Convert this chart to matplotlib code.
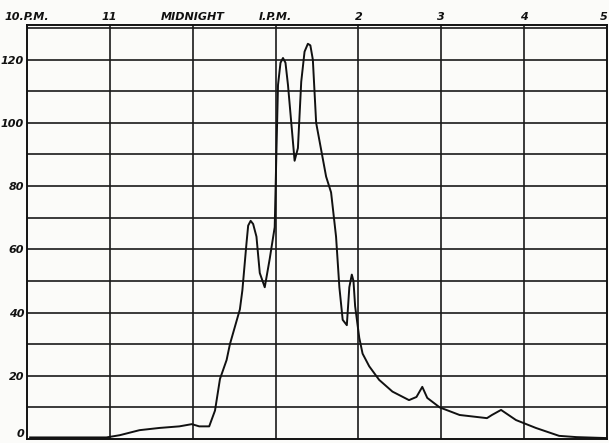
import numpy as np
import matplotlib
matplotlib.use("Agg")
from matplotlib import pyplot as plt

# hours after 10 P.M. and the value
hours = [0.04, 0.96, 1.12, 1.36, 1.60, 1.84, 1.99, 2.08, 2.20, 2.27, 2.33, 2.41,
         2.45, 2.57, 2.60, 2.65, 2.67, 2.70, 2.73, 2.77, 2.81, 2.87, 2.93, 2.99,
         3.01, 3.03, 3.06, 3.09, 3.12, 3.15, 3.19, 3.23, 3.27, 3.31, 3.35, 3.39,
         3.42, 3.45, 3.49, 3.61, 3.67, 3.73, 3.77, 3.81, 3.86, 3.89, 3.92, 3.94,
         3.96, 4.01, 4.05, 4.13, 4.25, 4.41, 4.61, 4.70, 4.77, 4.83, 4.98, 5.22,
         5.55, 5.61, 5.72, 5.90, 6.14, 6.42, 6.63, 6.99]
values = [0.5, 0.5, 1.2, 2.8, 3.5, 4.0, 4.7, 4.0, 4.0, 9.0, 19.0, 25.0,
          30.0, 41.0, 47.0, 62.0, 67.5, 69.0, 68.0, 64.0, 52.5, 48.0, 57.0, 67.0,
          90.0, 112.0, 119.0, 120.5, 119.0, 112.0, 100.0, 88.0, 92.0, 113.0, 122.5, 125.0,
          124.5, 120.0, 100.0, 83.0, 78.0, 64.0, 48.0, 37.7, 36.0, 48.0, 52.0, 50.0,
          42.0, 32.0, 27.0, 23.0, 18.7, 15.0, 12.3, 13.3, 16.5, 13.0, 10.0, 7.6,
          6.6, 7.6, 9.2, 6.0, 3.5, 1.0, 0.6, 0.3]

hour_labels = ['10.P.M.', '11', 'MIDNIGHT', 'I.P.M.', '2', '3', '4', '5']
y_ticks = [0, 20, 40, 60, 80, 100, 120]

paper = '#fbfbf9'
fig = plt.figure(figsize=(6.09, 4.43), dpi=100, facecolor=paper)
ax = fig.add_axes([0.044, 0.009, 0.953, 0.935], facecolor=paper)

ax.set_xlim(0, 7)
ax.set_ylim(0, 131)

# grid: every hour, every 10 units
for h in range(1, 7):
    ax.axvline(h, color='#1a1a1a', lw=1.2, zorder=1)
for v in range(10, 131, 10):
    ax.axhline(v, color='#1a1a1a', lw=1.2, zorder=1)

ax.plot(hours, values, color='#111111', lw=1.4, zorder=3,
        solid_joinstyle='round')

for s in ax.spines.values():
    s.set_color('#111111')
    s.set_linewidth(1.4)

ax.xaxis.tick_top()
ax.set_xticks(range(8))
ax.set_xticklabels(hour_labels, fontsize=8, fontweight='bold', style='italic')
ax.set_yticks(y_ticks)
ax.set_yticklabels([str(t) for t in y_ticks], fontsize=8, fontweight='bold', style='italic')
ax.tick_params(length=0, pad=2, colors='#111111')

# keep the edge labels inside the picture
ax.get_yticklabels()[0].set_va('bottom')
ax.get_xticklabels()[-1].set_ha('right')

fig.savefig('out.png', dpi=100, facecolor=paper)
